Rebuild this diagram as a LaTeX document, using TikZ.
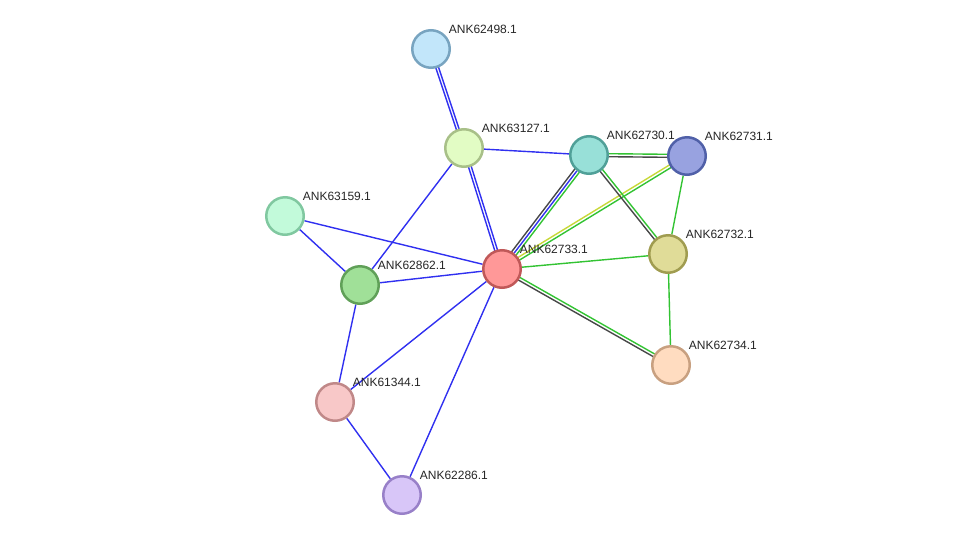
\documentclass[tikz,border=0pt]{standalone}
\usepackage{fontspec}
\setmainfont{Liberation Sans}
\usetikzlibrary{calc,backgrounds}

\definecolor{cooc}{HTML}{3030F0}
\definecolor{nbhd}{HTML}{33C333}
\definecolor{coex}{HTML}{484848}
\definecolor{txtm}{HTML}{C8D838}

% node fill / border colours
\definecolor{f62498}{HTML}{C2E6FA}\definecolor{d62498}{HTML}{78A4C0}
\definecolor{f63127}{HTML}{E2FCC4}\definecolor{d63127}{HTML}{A8C088}
\definecolor{f62730}{HTML}{98E0D8}\definecolor{d62730}{HTML}{50A098}
\definecolor{f62731}{HTML}{98A2E0}\definecolor{d62731}{HTML}{5060A8}
\definecolor{f63159}{HTML}{C2FADA}\definecolor{d63159}{HTML}{80C8A0}
\definecolor{f62732}{HTML}{E0DC98}\definecolor{d62732}{HTML}{A09C50}
\definecolor{f62733}{HTML}{FF9898}\definecolor{d62733}{HTML}{C05858}
\definecolor{f62862}{HTML}{A0E098}\definecolor{d62862}{HTML}{60A058}
\definecolor{f62734}{HTML}{FFDCC0}\definecolor{d62734}{HTML}{C8A080}
\definecolor{f61344}{HTML}{F8C8C8}\definecolor{d61344}{HTML}{C08888}
\definecolor{f62286}{HTML}{D8C6F8}\definecolor{d62286}{HTML}{9880C8}

\tikzset{
  prot/.style={circle, minimum size=37.5pt, inner sep=0pt, line width=2.5pt,
    fill=f#1, draw=d#1, label={[lbl]45:ANK#1.1}},
  lbl/.style={font=\fontsize{12}{14}\selectfont, text=black!85, inner sep=2pt,
    xshift=1.5pt, yshift=-0.5pt},
  edge/.style={line width=1.4pt}
}

\begin{document}
\begin{tikzpicture}[x=1pt, y=-1pt]
  \useasboundingbox (0,0) rectangle (976,541);

  % proteins
  \node[prot=62498] (p62498) at (431,49) {};
  \node[prot=63127] (p63127) at (464,148) {};
  \node[prot=62730] (p62730) at (589,155) {};
  \node[prot=62731] (p62731) at (687,156) {};
  \node[prot=63159] (p63159) at (285,216) {};
  \node[prot=62732] (p62732) at (668,254) {};
  \node[prot=62733] (p62733) at (502,269) {};
  \node[prot=62862] (p62862) at (360,285) {};
  \node[prot=62734] (p62734) at (671,365) {};
  \node[prot=61344] (p61344) at (335,402) {};
  \node[prot=62286] (p62286) at (402,495) {};

  \begin{scope}[on background layer]
    % single blue links
    \draw[edge, cooc] (p63127) -- (p62730);
    \draw[edge, cooc] (p63127) -- (p62862);
    \draw[edge, cooc] (p63159) -- (p62733);
    \draw[edge, cooc] (p63159) -- (p62862);
    \draw[edge, cooc] (p62862) -- (p62733);
    \draw[edge, cooc] (p62862) -- (p61344);
    \draw[edge, cooc] (p61344) -- (p62733);
    \draw[edge, cooc] (p61344) -- (p62286);
    \draw[edge, cooc] (p62286) -- (p62733);

    % double blue links
    \draw[edge, cooc] ($(p62498)!1.4pt!90:(p63127)$) -- ($(p63127)!1.4pt!-90:(p62498)$);
    \draw[edge, cooc] ($(p62498)!1.4pt!-90:(p63127)$) -- ($(p63127)!1.4pt!90:(p62498)$);
    \draw[edge, cooc] ($(p63127)!1.4pt!90:(p62733)$) -- ($(p62733)!1.4pt!-90:(p63127)$);
    \draw[edge, cooc] ($(p63127)!1.4pt!-90:(p62733)$) -- ($(p62733)!1.4pt!90:(p63127)$);

    % ANK62733.1 -- ANK62730.1, three lines
    \draw[edge, coex] ($(p62733)!2.8pt!90:(p62730)$) -- ($(p62730)!2.8pt!-90:(p62733)$);
    \draw[edge, cooc] (p62733) -- (p62730);
    \draw[edge, nbhd] ($(p62733)!2.8pt!-90:(p62730)$) -- ($(p62730)!2.8pt!90:(p62733)$);

    % ANK62733.1 -- ANK62731.1
    \draw[edge, txtm] ($(p62733)!1.5pt!90:(p62731)$) -- ($(p62731)!1.5pt!-90:(p62733)$);
    \draw[edge, nbhd] ($(p62733)!1.5pt!-90:(p62731)$) -- ($(p62731)!1.5pt!90:(p62733)$);

    % ANK62730.1 -- ANK62731.1
    \draw[edge, nbhd] ($(p62730)!1.5pt!90:(p62731)$) -- ($(p62731)!1.5pt!-90:(p62730)$);
    \draw[edge, coex] ($(p62730)!1.5pt!-90:(p62731)$) -- ($(p62731)!1.5pt!90:(p62730)$);

    % ANK62730.1 -- ANK62732.1
    \draw[edge, nbhd] ($(p62730)!1.5pt!90:(p62732)$) -- ($(p62732)!1.5pt!-90:(p62730)$);
    \draw[edge, coex] ($(p62730)!1.5pt!-90:(p62732)$) -- ($(p62732)!1.5pt!90:(p62730)$);

    % ANK62733.1 -- ANK62734.1
    \draw[edge, nbhd] ($(p62733)!1.5pt!90:(p62734)$) -- ($(p62734)!1.5pt!-90:(p62733)$);
    \draw[edge, coex] ($(p62733)!1.5pt!-90:(p62734)$) -- ($(p62734)!1.5pt!90:(p62733)$);

    % single green links
    \draw[edge, nbhd] (p62733) -- (p62732);
    \draw[edge, nbhd] (p62731) -- (p62732);
    \draw[edge, nbhd] (p62732) -- (p62734);
  \end{scope}
\end{tikzpicture}
\end{document}
